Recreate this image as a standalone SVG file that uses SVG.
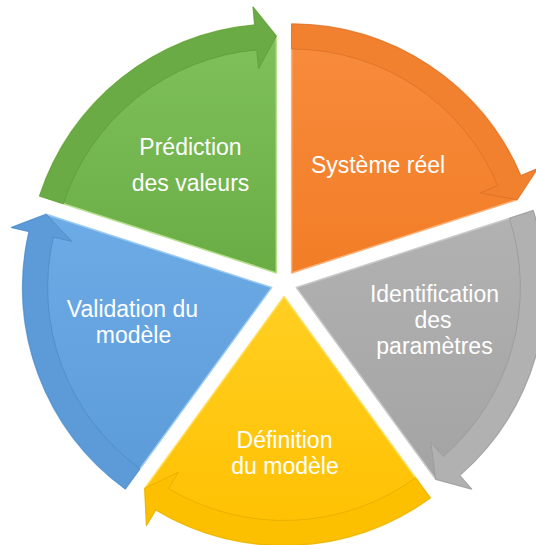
<svg xmlns="http://www.w3.org/2000/svg" width="536" height="545" viewBox="0 0 536 545">
  <defs>
    <linearGradient id="gGreen" x1="0" y1="0" x2="0" y2="1">
      <stop offset="0" stop-color="#82C35F"/>
      <stop offset="1" stop-color="#6AAC44"/>
    </linearGradient>
    <linearGradient id="gOrange" x1="0" y1="0" x2="0" y2="1">
      <stop offset="0" stop-color="#F88C3E"/>
      <stop offset="1" stop-color="#F27D26"/>
    </linearGradient>
    <linearGradient id="gGray" x1="0" y1="0" x2="0" y2="1">
      <stop offset="0" stop-color="#B2B2B2"/>
      <stop offset="1" stop-color="#A3A3A3"/>
    </linearGradient>
    <linearGradient id="gYellow" x1="0" y1="0" x2="0" y2="1">
      <stop offset="0" stop-color="#FFCF22"/>
      <stop offset="1" stop-color="#FFC000"/>
    </linearGradient>
    <linearGradient id="gBlue" x1="0" y1="0" x2="0" y2="1">
      <stop offset="0" stop-color="#6DABE6"/>
      <stop offset="1" stop-color="#5B9BD8"/>
    </linearGradient>
  </defs>
  <style>
    .body { stroke-width: 1.5; stroke-linejoin: round; }
    .band { stroke-width: 0.8; stroke-linejoin: miter; }
    .lbl { font-family: "Liberation Sans", Arial, sans-serif; font-size: 23px; fill: #FFFFFF; text-anchor: middle; }
  </style>

  <g id="node-systeme-reel">
    <path class="body" fill="url(#gOrange)" stroke="#FBB27A" d="M291.64,272.98 L291.64,23.98 A249,249 0 0 1 520.84,175.69 L537.41,168.66 L517.04,199.74 Z"/>
    <text class="lbl" x="378" y="173">Système réel</text>
  </g>

  <g id="node-identification">
    <path class="body" fill="url(#gGray)" stroke="#C8C8C8" d="M296.36,287.52 L533.17,210.57 A249,249 0 0 1 459.72,475.44 L471.53,489.03 L435.67,479.26 Z"/>
    <text class="lbl" x="434.5" y="302">Identification</text>
    <text class="lbl" x="433" y="328">des</text>
    <text class="lbl" x="434.5" y="354">paramètres</text>
  </g>

  <g id="node-definition">
    <path class="body" fill="url(#gYellow)" stroke="#FFE066" d="M284,296.5 L430.36,497.95 A249,249 0 0 1 155.76,509.94 L146.48,525.36 L144.69,488.24 Z"/>
    <text class="lbl" x="284.5" y="448">Définition</text>
    <text class="lbl" x="285" y="474">du modèle</text>
  </g>

  <g id="node-validation">
    <path class="body" fill="url(#gBlue)" stroke="#9CCBF2" d="M271.64,287.52 L125.28,488.97 A249,249 0 0 1 29.02,231.51 L11.48,227.46 L46.24,214.28 Z"/>
    <text class="lbl" x="132.5" y="316.5">Validation du</text>
    <text class="lbl" x="133.5" y="342.5">modèle</text>
  </g>

  <g id="node-prediction">
    <path class="body" fill="url(#gGreen)" stroke="#B7E08F" d="M276.36,272.98 L39.55,196.03 A249,249 0 0 1 254.66,24.93 L253.09,7 L276.36,35.98 Z"/>
    <text class="lbl" x="190.5" y="155">Prédiction</text>
    <text class="lbl" x="190.5" y="191">des valeurs</text>
  </g>

  <g id="connectors">
    <path class="band" fill="#F1812F" stroke="#D9702A" d="M291.64,23.98 A249,249 0 0 1 520.84,175.69 L537.41,168.66 L517.04,199.74 L480.34,192.88 L497.83,185.46 A224,224 0 0 0 291.64,48.98 Z"/>
    <path class="band" fill="#B1B1B1" stroke="#999999" d="M533.17,210.57 A249,249 0 0 1 459.72,475.44 L471.53,489.03 L435.67,479.26 L430.85,442.24 L443.32,456.58 A224,224 0 0 0 509.40,218.30 Z"/>
    <path class="band" fill="#FCC000" stroke="#E3AD00" d="M430.36,497.95 A249,249 0 0 1 155.76,509.94 L146.48,525.36 L144.69,488.24 L178.42,472.22 L168.63,488.51 A224,224 0 0 0 415.66,477.72 Z"/>
    <path class="band" fill="#5C9BD7" stroke="#4F8AC3" d="M125.28,488.97 A249,249 0 0 1 29.02,231.51 L11.48,227.46 L46.24,214.28 L71.89,241.41 L53.38,237.13 A224,224 0 0 0 139.98,468.74 Z"/>
    <path class="band" fill="#6BAB45" stroke="#5F9A3D" d="M39.55,196.03 A249,249 0 0 1 254.66,24.93 L253.09,7 L276.36,35.98 L258.49,68.76 L256.84,49.83 A224,224 0 0 0 63.32,203.76 Z"/>
  </g>
</svg>
